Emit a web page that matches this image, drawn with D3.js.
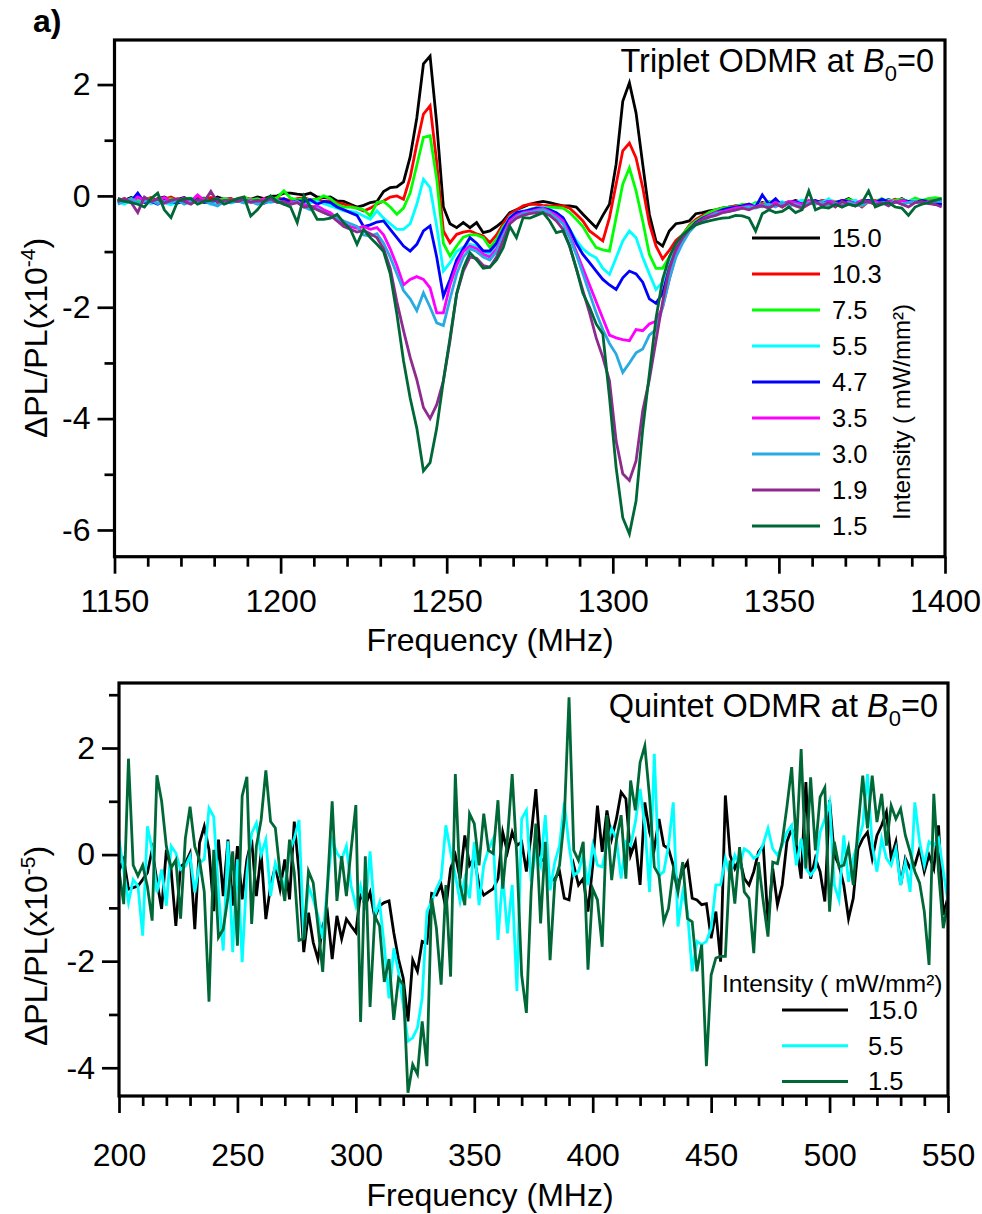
<!DOCTYPE html>
<html><head><meta charset="utf-8">
<script src="https://cdn.jsdelivr.net/npm/d3@7"></script>
<style>
body{margin:0;background:#fff;}
svg text{font-family:"Liberation Sans", Arial, Helvetica, sans-serif;fill:#000;}
</style></head><body>
<svg id="chart" width="982" height="1214"></svg>
<script>
// ---------------- DATA ----------------
// Triplet ODMR (top panel): frequency grid 1151..1399 MHz, 2 MHz step
const tripletFreq = d3.range(1151, 1400, 2);
const tripletLabels = ["15.0","10.3","7.5","5.5","4.7","3.5","3.0","1.9","1.5"];
const tri150 = [-0.05,-0.08,-0.03,-0.07,-0.04,-0.1,-0.05,-0.02,-0.08,-0.06,-0.03,-0.09,-0.05,-0.04,-0.08,-0.02,-0.06,-0.05,-0.1,-0.03,-0.06,-0.02,-0.05,-0.01,0.0,0.05,0.05,0.03,0.02,0.05,-0.02,-0.03,-0.02,-0.09,-0.1,
 -0.15,-0.2,-0.17,-0.12,-0.1,0.08,0.15,0.16,0.25,0.7,1.4,2.37,2.51,1.3,-0.2,-0.5,-0.57,-0.48,-0.57,-0.48,-0.66,-0.63,-0.55,-0.45,-0.3,-0.25,-0.2,-0.15,-0.12,-0.1,-0.12,-0.15,-0.18,-0.18,-0.2,-0.33,-0.45,-0.57,-0.35,-0.15,0.57,1.7,2.03,1.49,0.57,-0.33,-0.81,-0.9,-0.63,-0.5,-0.48,-0.45,-0.32,-0.3,-0.27,
 -0.25,-0.22,-0.2,-0.18,-0.2,-0.15,-0.17,-0.12,-0.15,-0.1,-0.13,-0.12,-0.08,-0.12,-0.1,-0.14,-0.1,-0.08,-0.12,-0.1,-0.05,-0.12,-0.1,-0.08,-0.12,-0.1,-0.07,-0.1,-0.05,-0.12,-0.1,-0.08,-0.12,-0.15,-0.15];
const tri103 = [-0.08,-0.05,-0.1,-0.04,-0.07,-0.03,-0.09,-0.06,-0.02,-0.08,-0.05,-0.1,-0.04,-0.07,-0.03,-0.06,-0.09,-0.05,-0.08,-0.04,-0.06,-0.1,-0.05,-0.07,-0.04,-0.06,-0.08,-0.05,-0.03,-0.07,-0.06,-0.1,-0.08,-0.12,-0.15,
 -0.18,-0.22,-0.27,-0.22,-0.15,-0.09,-0.02,0.0,-0.06,0.33,0.93,1.47,1.62,0.6,-0.63,-0.84,-0.69,-0.65,-0.63,-0.68,-0.72,-0.84,-0.7,-0.5,-0.33,-0.25,-0.18,-0.15,-0.15,-0.17,-0.18,-0.18,-0.18,-0.22,-0.33,-0.45,-0.63,-0.72,-0.81,-0.39,0.21,0.81,0.95,0.68,0.15,-0.5,-0.9,-1.13,-0.98,-0.8,-0.7,-0.53,-0.42,-0.35,-0.3,
 -0.25,-0.22,-0.2,-0.18,-0.17,-0.15,-0.18,-0.13,-0.15,-0.1,-0.2,-0.12,-0.1,-0.14,-0.1,-0.12,-0.08,-0.1,-0.14,-0.08,-0.1,-0.12,-0.2,-0.1,-0.08,-0.12,-0.1,-0.06,-0.1,-0.12,-0.08,-0.1,-0.06,-0.05,-0.08];
const tri75 = [-0.07,-0.1,-0.05,-0.08,-0.04,-0.06,-0.1,-0.07,-0.05,-0.09,-0.06,-0.04,-0.08,-0.05,-0.1,-0.07,-0.05,-0.08,-0.06,-0.03,-0.07,-0.05,-0.09,-0.06,-0.03,0.09,-0.04,-0.07,-0.05,-0.08,-0.06,0.0,-0.05,-0.15,-0.2,
 -0.2,-0.22,-0.25,-0.36,-0.12,-0.1,-0.2,-0.33,-0.22,0.05,0.55,1.05,1.08,0.3,-0.85,-1.08,-0.9,-0.74,-0.7,-0.7,-0.75,-0.93,-0.78,-0.55,-0.42,-0.35,-0.3,-0.24,-0.21,-0.21,-0.2,-0.21,-0.22,-0.3,-0.42,-0.55,-0.75,-0.93,-0.97,-0.99,-0.39,0.21,0.5,0.09,-0.45,-1.05,-1.3,-1.3,-1.1,-0.9,-0.7,-0.55,-0.45,-0.38,-0.3,
 -0.25,-0.22,-0.2,-0.2,-0.15,-0.18,-0.12,-0.15,-0.1,-0.13,-0.15,-0.1,-0.12,-0.08,-0.12,-0.1,-0.14,-0.08,-0.1,-0.12,-0.06,-0.1,-0.12,-0.08,-0.1,-0.05,-0.12,-0.08,-0.06,-0.1,-0.04,-0.08,-0.05,-0.03,-0.05];
const tri55 = [-0.1,-0.15,-0.08,-0.12,-0.1,-0.14,-0.09,-0.12,-0.16,-0.1,-0.13,-0.08,-0.12,-0.1,-0.15,-0.11,-0.09,-0.13,-0.1,-0.12,-0.08,-0.14,-0.1,-0.12,-0.09,-0.13,-0.11,-0.1,-0.15,-0.12,-0.1,-0.14,-0.18,-0.22,-0.27,
 -0.28,-0.3,-0.36,-0.42,-0.27,-0.4,-0.5,-0.6,-0.6,-0.5,-0.15,0.3,0.15,-0.55,-1.35,-1.2,-1.0,-0.92,-0.87,-0.9,-0.99,-1.05,-0.85,-0.6,-0.38,-0.3,-0.27,-0.25,-0.22,-0.2,-0.25,-0.3,-0.39,-0.6,-0.8,-0.95,-1.05,-1.11,-1.3,-1.41,-1.11,-0.81,-0.63,-0.75,-1.1,-1.4,-1.68,-1.55,-1.2,-0.95,-0.75,-0.6,-0.5,-0.42,-0.35,
 -0.3,-0.28,-0.25,-0.2,-0.22,-0.18,-0.15,-0.2,-0.12,-0.15,-0.1,-0.18,-0.12,-0.08,-0.15,-0.1,-0.12,-0.05,-0.15,-0.1,-0.12,-0.08,-0.13,-0.1,-0.15,-0.12,-0.08,-0.1,-0.14,-0.1,-0.08,-0.12,-0.1,-0.08,-0.06];
const tri47 = [-0.12,-0.08,-0.1,0.05,-0.12,-0.1,-0.15,-0.08,-0.1,-0.13,-0.09,-0.11,-0.06,-0.12,-0.1,-0.08,-0.14,-0.1,-0.07,-0.12,-0.1,-0.09,-0.13,-0.08,-0.1,-0.05,-0.12,-0.09,-0.1,-0.07,-0.15,-0.1,-0.12,-0.2,-0.25,
 -0.3,-0.35,-0.55,-0.52,-0.47,-0.45,-0.6,-0.75,-0.9,-0.99,-0.87,-0.63,-0.54,-1.1,-1.8,-1.5,-1.15,-0.95,-0.75,-0.85,-0.99,-0.99,-0.85,-0.6,-0.4,-0.3,-0.28,-0.25,-0.22,-0.22,-0.25,-0.3,-0.39,-0.6,-0.85,-1.05,-1.2,-1.35,-1.5,-1.6,-1.68,-1.47,-1.35,-1.4,-1.55,-1.85,-1.93,-1.75,-1.3,-1.0,-0.78,-0.6,-0.48,-0.4,-0.35,
 -0.3,-0.25,-0.22,-0.2,-0.18,-0.15,-0.2,0.02,-0.15,-0.05,-0.18,-0.12,-0.1,-0.15,-0.1,-0.08,-0.13,-0.1,-0.12,-0.08,-0.1,-0.14,-0.1,-0.08,-0.12,-0.06,-0.1,-0.12,-0.08,-0.1,-0.12,-0.08,-0.1,-0.12,-0.15];
const tri35 = [-0.1,-0.05,-0.12,-0.02,-0.08,-0.1,-0.06,-0.03,-0.1,-0.08,-0.04,-0.1,0.02,-0.08,-0.1,-0.05,-0.12,-0.08,-0.06,-0.1,-0.08,-0.12,-0.05,-0.1,-0.08,-0.15,-0.12,-0.1,-0.15,-0.2,-0.18,-0.25,-0.3,-0.4,-0.5,
 -0.55,-0.58,-0.55,-0.6,-0.57,-0.7,-0.95,-1.25,-1.6,-1.5,-1.45,-1.5,-1.65,-2.1,-2.1,-1.6,-1.25,-1.0,-0.9,-0.95,-1.05,-1.1,-0.95,-0.7,-0.45,-0.35,-0.3,-0.28,-0.25,-0.22,-0.28,-0.35,-0.45,-0.7,-1.0,-1.3,-1.6,-1.9,-2.2,-2.5,-2.55,-2.58,-2.6,-2.4,-2.42,-2.3,-2.25,-2.0,-1.5,-1.05,-0.8,-0.62,-0.5,-0.42,-0.35,
 -0.3,-0.28,-0.25,-0.22,-0.2,-0.18,-0.2,-0.15,-0.18,-0.12,-0.15,-0.1,-0.12,-0.15,-0.08,-0.12,-0.15,-0.1,-0.12,-0.18,-0.1,-0.14,-0.08,-0.12,-0.1,-0.15,-0.1,-0.12,-0.08,-0.12,-0.1,-0.14,-0.1,-0.08,-0.1];
const tri30 = [-0.15,-0.1,-0.05,-0.12,-0.1,-0.08,-0.14,-0.1,-0.12,-0.08,-0.15,-0.1,-0.12,-0.09,-0.14,-0.18,-0.1,-0.12,-0.08,-0.13,-0.1,-0.15,-0.12,-0.1,-0.08,-0.12,-0.15,-0.1,-0.2,-0.25,-0.22,-0.3,-0.35,-0.4,-0.45,
 -0.5,-0.55,-0.7,-0.72,-0.68,-0.85,-1.1,-1.4,-1.7,-1.85,-2.06,-1.74,-2.0,-2.28,-2.33,-1.85,-1.4,-1.1,-0.95,-1.0,-1.1,-1.15,-1.0,-0.72,-0.5,-0.38,-0.32,-0.3,-0.27,-0.25,-0.3,-0.4,-0.5,-0.75,-1.05,-1.4,-1.75,-2.1,-2.4,-2.65,-2.84,-3.17,-3.0,-2.82,-2.75,-2.5,-2.4,-2.0,-1.5,-1.1,-0.85,-0.65,-0.52,-0.45,-0.38,
 -0.32,-0.3,-0.28,-0.25,-0.22,-0.2,-0.22,-0.18,-0.15,-0.2,-0.12,-0.18,-0.15,-0.2,-0.12,-0.15,-0.1,-0.18,-0.14,-0.2,-0.12,-0.15,-0.18,-0.1,-0.14,-0.12,-0.16,-0.1,-0.15,-0.12,-0.1,-0.14,-0.12,-0.1,-0.1];
const tri19 = [-0.1,-0.05,-0.12,-0.3,-0.02,-0.1,-0.06,-0.13,-0.08,-0.05,-0.1,-0.15,-0.07,-0.1,0.08,-0.12,-0.08,-0.08,-0.1,-0.06,-0.12,-0.08,-0.1,-0.05,-0.12,-0.1,-0.15,-0.12,-0.2,-0.18,-0.25,-0.3,-0.35,-0.45,-0.55,
 -0.6,-0.65,-0.62,-0.68,-0.75,-0.95,-1.3,-1.9,-2.42,-2.9,-3.3,-3.8,-4.0,-3.75,-3.32,-2.6,-1.76,-1.35,-1.1,-1.12,-1.25,-1.28,-1.1,-0.8,-0.5,-0.4,-0.35,-0.32,-0.3,-0.3,-0.35,-0.45,-0.6,-0.9,-1.3,-1.7,-2.1,-2.55,-2.9,-3.32,-4.4,-4.99,-5.11,-4.76,-3.86,-3.3,-2.6,-1.9,-1.3,-0.95,-0.75,-0.6,-0.5,-0.42,-0.38,
 -0.35,-0.3,-0.28,-0.25,-0.22,-0.25,-0.2,-0.18,-0.22,-0.15,-0.2,-0.12,-0.18,-0.22,-0.15,-0.1,-0.18,-0.12,-0.2,-0.1,-0.15,-0.18,-0.12,-0.1,-0.16,-0.12,-0.18,-0.1,-0.15,-0.2,-0.12,-0.1,-0.14,-0.15,-0.2];
const tri15 = [-0.06,-0.1,-0.12,-0.15,-0.2,-0.05,0.05,-0.25,-0.39,-0.1,-0.05,-0.05,-0.15,-0.1,-0.08,-0.05,-0.15,-0.1,-0.05,-0.02,-0.36,-0.25,-0.1,0.0,-0.1,-0.15,-0.2,-0.48,0.0,-0.2,-0.42,-0.42,-0.4,-0.33,-0.48,
 -0.6,-0.87,-0.6,-0.75,-0.87,-1.0,-1.4,-2.12,-2.96,-3.63,-4.17,-4.94,-4.79,-4.17,-3.32,-2.55,-1.76,-1.3,-1.02,-1.15,-1.3,-1.28,-1.15,-0.93,-0.55,-0.75,-0.39,-0.4,-0.35,-0.3,-0.45,-0.66,-0.63,-0.9,-1.3,-1.75,-2.0,-2.3,-2.48,-3.62,-4.88,-5.78,-6.07,-5.48,-4.2,-3.2,-2.2,-1.5,-1.1,-0.85,-0.7,-0.6,-0.52,-0.48,-0.45,
 -0.42,-0.4,-0.39,-0.35,-0.36,-0.4,-0.63,-0.32,-0.25,-0.3,-0.28,-0.2,-0.3,-0.25,0.09,-0.25,-0.2,-0.22,-0.15,-0.2,-0.15,-0.18,-0.12,0.09,-0.2,-0.15,-0.12,-0.2,-0.22,-0.35,-0.2,-0.15,-0.12,-0.08,-0.05];
const tripletSeries = [tri150, tri103, tri75, tri55, tri47, tri35, tri30, tri19, tri15];
const tripletXTicks = [1150,1200,1250,1300,1350,1400];
const tripletYTicks = [-6,-4,-2,0,2];

// Quintet ODMR (bottom panel): frequency grid 200..550 MHz, 2 MHz step
const quintetFreq = d3.range(200, 551, 2);
const quintetLabels = ["15.0","5.5","1.5"];
const qui150 = [
 -0.3,-0.09,-0.65,-0.62,-0.59,-0.47,-0.34,0.09,-0.5,-1.02,
 0.09,-0.28,-1.34,-0.22,-0.16,0.03,-1.4,0.22,0.53,0.09,
 -1.06,0.28,-0.78,0.28,-0.96,0.16,-0.84,-0.09,0.28,-0.78,
 0.03,-1.21,-0.59,-0.22,-0.65,-0.09,-0.84,0.62,-0.34,-1.83,
 -1.09,-1.65,-1.96,-1.34,-1.09,-1.96,-1.15,-1.58,-1.21,-1.34,
 -1.46,-0.71,-0.96,-0.71,-1.18,-0.96,-0.9,-0.87,-1.46,-1.96,
 -2.32,-3.13,-1.98,-2.19,-1.63,-1.66,-0.73,-0.76,-0.57,-1.01,
 -0.26,-0.01,-0.45,0.36,-0.2,-0.07,-0.57,-0.76,-0.7,-0.64,
 -0.45,0.42,0.05,0.42,0.17,0.24,-0.32,0.36,1.23,-0.07,
 -0.14,-0.51,-0.45,-0.32,-0.82,-0.85,-0.2,-0.57,-0.45,-1.07,
 -0.2,0.92,0.05,0.83,0.3,0.67,1.17,1.05,-0.01,0.24,
 -0.57,0.98,0.42,0.11,0.67,0.17,0.11,-0.2,-0.57,-0.3,
 -0.14,-0.82,-0.85,-0.94,-0.92,-1.57,-1.07,-2.01,1.11,-0.01,
 -0.26,-0.07,-0.45,-0.57,-0.32,0.05,0.17,-1.26,-0.26,-0.94,
 -0.57,0.24,0.49,0.17,-0.45,1.36,-0.45,-0.07,-0.32,-0.88,
 1.02,-0.01,-0.2,-0.57,-1.2,-0.82,0.11,0.3,0.42,-0.07,
 0.36,0.55,0.8,-0.07,0.24,-0.57,-0.07,-0.26,-0.2,0.11,
 -0.32,-0.01,-0.26,0.55,-1.13,-0.8];
const qui55 = [
 0.28,-0.3,-0.9,-0.47,-0.59,-1.52,0.53,0.09,-0.71,-0.28,
 -0.96,0.16,0.03,-0.28,-0.22,-0.03,-0.71,-0.16,-0.09,0.87,
 0.71,-0.71,-1.8,0.25,-1.83,-0.09,-2.02,-0.34,0.4,0.59,
 0.0,0.28,-0.78,-0.16,-0.4,-0.59,0.06,0.3,0.65,-1.58,
 -0.59,-0.84,-1.15,-1.58,-0.59,0.28,0.03,-0.09,0.16,-0.59,
 -0.96,-0.59,-1.02,0.06,-1.15,-0.9,-1.71,-2.7,-1.76,-2.2,
 -2.82,-3.5,-3.44,-3.25,-2.69,-1.07,-0.88,-0.64,-0.45,0.55,
 0.05,-0.39,-0.88,-0.45,-0.82,0.24,-0.95,-0.2,0.1,0.3,
 -1.6,-0.39,-1.48,-0.57,-2.56,0.67,0.83,-0.51,0.1,-0.2,
 0.74,-0.67,-0.14,0.17,0.98,0.17,-0.39,-0.32,-0.01,-0.57,
 0.17,-0.2,-0.23,0.17,0.49,0.3,-0.45,0.24,0.17,0.61,
 1.23,0.55,-0.7,1.89,-0.39,-0.32,0.17,0.98,-1.35,-0.7,
 -1.07,-2.19,-1.63,-1.69,-1.63,-1.38,-0.57,-0.57,-0.07,-0.39,
 -0.01,-0.2,0.11,0.05,-0.07,-0.01,0.2,0.49,0.11,-0.01,
 0.17,0.42,0.55,-0.2,0.3,-0.26,-0.39,-0.26,0.42,0.67,
 0.98,-0.57,-0.85,0.36,-0.51,-0.07,0.24,0.55,1.51,0.17,
 -0.32,0.3,-0.07,-0.2,0.11,-0.57,-0.14,-0.7,0.98,0.24,
 -0.2,0.24,0.17,0.3,-0.3,-0.9];
const qui15 = [
 -0.3,-0.93,1.8,-0.2,-0.4,-0.2,-0.6,-1.24,1.49,1.0,
 0.15,-0.25,-0.1,-1.2,0.3,0.9,0.15,-0.1,-0.7,-2.76,
 0.09,-1.55,-1.4,-0.8,0.06,-1.71,1.1,1.46,-1.3,0.16,
 0.65,1.58,0.62,0.5,-0.34,-0.87,0.28,-0.34,-1.61,-1.58,
 -0.31,-0.53,-1.34,-2.2,-0.6,1.0,-0.87,-0.03,-0.78,0.1,
 0.93,-3.14,-0.03,-2.86,-1.15,-1.34,-2.39,-1.96,-3.1,-2.32,
 -2.44,-4.47,-3.94,-4.12,-3.13,-3.97,-0.82,-1.38,-2.44,-0.57,
 -2.29,1.51,-0.57,-0.95,0.77,0.58,-0.2,0.77,0.08,0.02,
 1.02,-0.64,0.3,1.51,-0.07,-2.26,-2.97,-0.7,0.58,-1.29,
 0.24,-1.98,-0.51,-0.2,0.67,2.95,0.08,-0.11,0.24,-2.16,
 -0.64,-0.85,-1.73,0.74,-0.48,0.27,0.74,-0.45,1.39,0.83,
 1.73,2.04,1.08,-0.23,-0.39,-1.26,-1.01,-0.3,-0.7,-0.14,
 -1.2,-1.26,-2.19,-1.69,-3.97,-2.26,-1.94,-1.91,-1.91,-0.11,
 -0.92,0.14,-0.7,-0.82,-1.85,-0.14,-0.88,-1.54,-0.14,-0.17,
 0.24,0.9,1.64,0.17,1.98,-0.26,1.45,0.08,1.08,1.26,
 -1.07,0.24,-0.23,-0.2,0.14,-0.57,0.5,1.48,0.49,1.48,
 0.61,1.14,0.17,0.92,0.67,0.86,0.36,0.05,-0.32,-0.53,
 -1.07,-2.07,1.14,-0.32,-1.38,-0.9];
const quintetSeries = [qui150, qui55, qui15];
const quintetXTicks = [200,250,300,350,400,450,500,550];
const quintetYTicks = [-4,-2,0,2];

// ---------------- STYLE ----------------
const tripletColors = ["#000000","#ff0000","#00ff00","#00ffff","#0000ff","#ff00ff","#29abe2","#8e2b8f","#006837"];
const quintetColors = ["#000000","#00ffff","#006837"];
const FONT = '"Liberation Sans", Arial, Helvetica, sans-serif';

const svg = d3.select("#chart");

function panel(cfg) {
  const x = d3.scaleLinear().domain(cfg.xDomain).range(cfg.xRange);
  const y = d3.scaleLinear().domain(cfg.yDomain).range(cfg.yRange);
  const g = svg.append("g");
  const [x0, x1] = cfg.xRange, [yb, yt] = cfg.yRange;

  const clipId = cfg.id + "-clip";
  svg.append("clipPath").attr("id", clipId).append("rect")
    .attr("x", x0).attr("y", yt).attr("width", x1 - x0).attr("height", yb - yt);

  const xMinor = d3.range(cfg.xDomain[0], cfg.xDomain[1] + 0.1, 10).filter(v => !cfg.xTicks.includes(v));
  const yMinor = d3.range(Math.ceil(cfg.yDomain[0]), cfg.yDomain[1], 1).filter(v => !cfg.yTicks.includes(v));

  const xa = g.append("g").attr("transform", `translate(0,${yb})`);
  xa.append("g").call(d3.axisBottom(x).tickValues(xMinor).tickSize(10).tickFormat(""));
  xa.append("g").call(d3.axisBottom(x).tickValues(cfg.xTicks).tickSize(17).tickPadding(cfg.xPad).tickFormat(d => String(d)));
  const ya = g.append("g").attr("transform", `translate(${x0},0)`);
  ya.append("g").call(d3.axisLeft(y).tickValues(yMinor).tickSize(10).tickFormat(""));
  ya.append("g").call(d3.axisLeft(y).tickValues(cfg.yTicks).tickSize(17).tickPadding(7).tickFormat(d => String(d)));
  g.selectAll(".domain").remove();
  g.selectAll(".tick line").attr("stroke", "#000").attr("stroke-width", 2.7);
  g.selectAll(".tick text").attr("font-size", 32).attr("font-family", FONT).attr("fill", "#000");

  const line = d3.line().x(d => x(d[0])).y(d => y(d[1]));
  const lg = g.append("g").attr("clip-path", `url(#${clipId})`);
  cfg.series.forEach((vals, k) => {
    const pts = vals.map((v, i) => [cfg.freq[i], v]).filter(p => p[0] !== undefined);
    lg.append("path").datum(pts).attr("d", line)
      .attr("fill", "none").attr("stroke", cfg.colors[k]).attr("stroke-width", 2.8)
      .attr("stroke-linejoin", "miter").attr("stroke-miterlimit", 6);
  });

  g.append("rect").attr("x", x0).attr("y", yt).attr("width", x1 - x0).attr("height", yb - yt)
    .attr("fill", "none").attr("stroke", "#000").attr("stroke-width", 3.2);

  g.append("text").attr("x", 490).attr("y", cfg.xTitleY).attr("text-anchor", "middle")
    .attr("font-size", 32).text("Frequency (MHz)");
  const yt2 = g.append("text").attr("transform", `translate(${cfg.yTitleX},${cfg.yTitleY}) rotate(-90)`)
    .attr("text-anchor", "middle").attr("font-size", 32);
  yt2.append("tspan").text("\u0394PL/PL(x10");
  yt2.append("tspan").attr("dy", -12).attr("font-size", 21).text(cfg.exp);
  yt2.append("tspan").attr("dy", 12).text(")");

  const tt = g.append("text").attr("x", cfg.titleX).attr("y", cfg.titleY).attr("text-anchor", "end").attr("font-size", 32.5);
  tt.append("tspan").text(cfg.title + " at ");
  tt.append("tspan").attr("font-style", "italic").text("B");
  tt.append("tspan").attr("dy", 9).attr("font-size", 22).text("0");
  tt.append("tspan").attr("dy", -9).text("=0");
  return {x, y, g};
}

// ---------- top panel ----------
const topPanel = panel({
  id: "toppanel", xDomain: [1150, 1400], xRange: [114.5, 945], yDomain: [-6.48, 2.8], yRange: [556.7, 40],
  xTicks: tripletXTicks, yTicks: tripletYTicks, xPad: 16, freq: tripletFreq,
  series: tripletSeries, colors: tripletColors, xTitleY: 651, yTitleX: 47, yTitleY: 338,
  exp: "-4", title: "Triplet ODMR", titleX: 934, titleY: 72
});
const legT = topPanel.g.append("g");
tripletLabels.forEach((lab, i) => {
  const yy = 238 + i * 36;
  legT.append("line").attr("x1", 752).attr("x2", 820).attr("y1", yy).attr("y2", yy)
    .attr("stroke", tripletColors[i]).attr("stroke-width", 3);
  legT.append("text").attr("x", 832).attr("y", yy + 9).attr("font-size", 25.5).text(lab);
});
legT.append("text").attr("transform", "translate(910,412) rotate(-90)").attr("text-anchor", "middle")
  .attr("font-size", 24).text("Intensity ( mW/mm\u00b2)");

svg.append("text").attr("x", 33).attr("y", 32).attr("font-size", 32).attr("font-weight", "bold").text("a)");

// ---------- bottom panel ----------
const botPanel = panel({
  id: "botpanel", xDomain: [200, 550], xRange: [119, 948], yDomain: [-4.53, 3.22], yRange: [1096, 683],
  xTicks: quintetXTicks, yTicks: quintetYTicks, xPad: 30, freq: quintetFreq,
  series: quintetSeries, colors: quintetColors, xTitleY: 1206, yTitleX: 47, yTitleY: 946,
  exp: "-5", title: "Quintet ODMR", titleX: 938, titleY: 717
});
const legB = botPanel.g.append("g");
legB.append("text").attr("x", 722).attr("y", 992).attr("font-size", 24.5).text("Intensity ( mW/mm\u00b2)");
quintetLabels.forEach((lab, i) => {
  const yy = 1010 + i * 35.7;
  legB.append("line").attr("x1", 782).attr("x2", 848).attr("y1", yy).attr("y2", yy)
    .attr("stroke", quintetColors[i]).attr("stroke-width", 3);
  legB.append("text").attr("x", 868).attr("y", yy + 9).attr("font-size", 25.5).text(lab);
});
</script>
</body></html>
